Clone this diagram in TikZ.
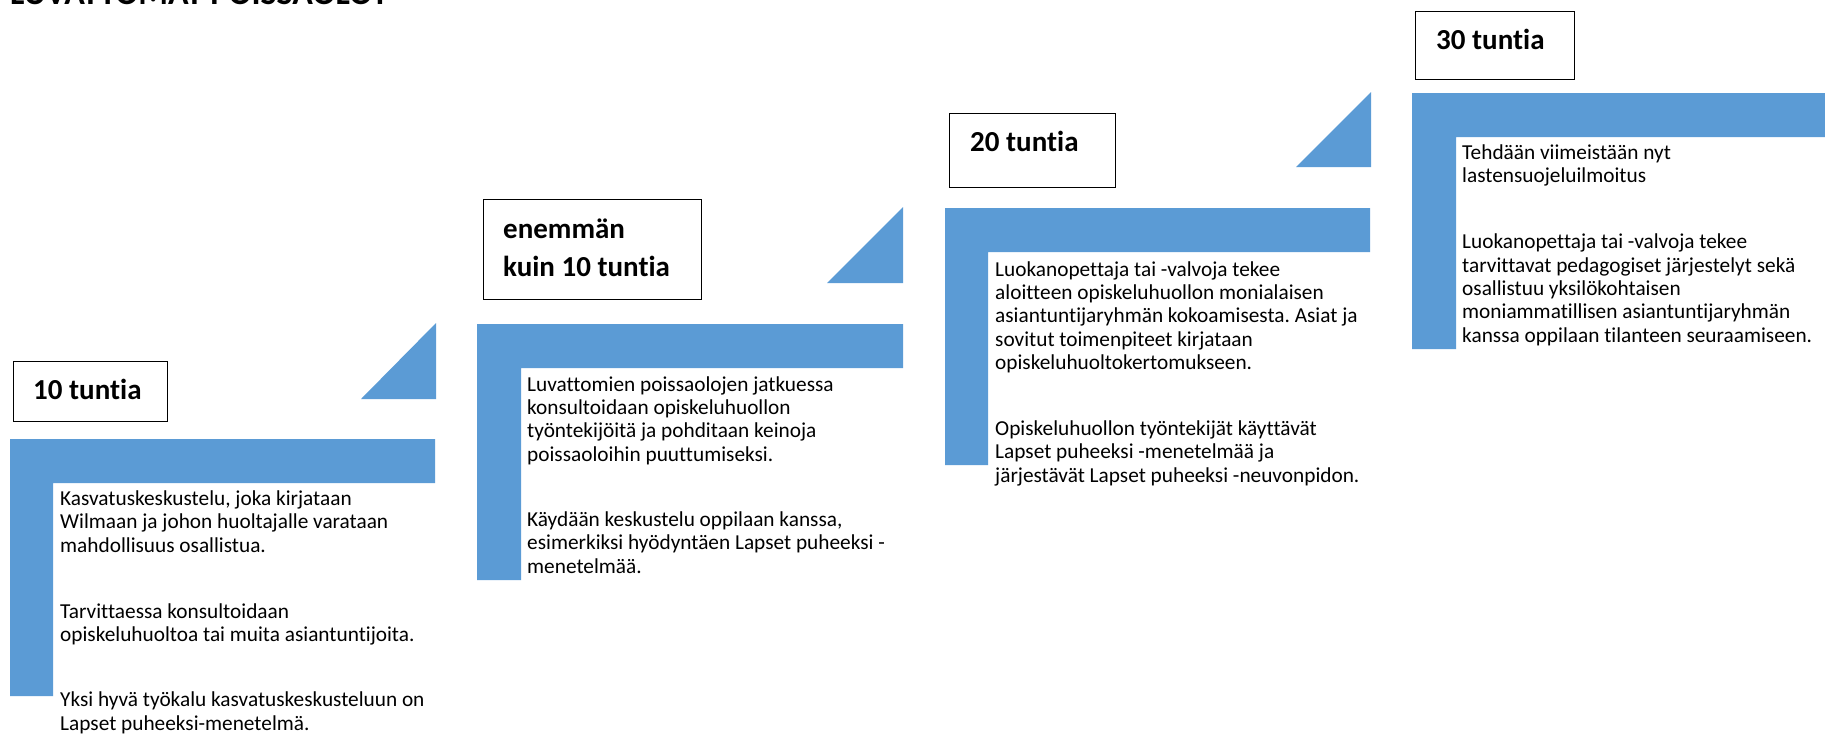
\documentclass[tikz,border=0pt]{standalone}
\usepackage{fontspec}
\setmainfont{Carlito}[Ligatures=NoCommon]
\definecolor{lblue}{HTML}{5B9BD5}
\frenchspacing
\begin{document}
\begin{tikzpicture}[x=1pt,y=-1pt,
  lshape/.style={fill=lblue},
  tri/.style={fill=lblue},
  hbox/.style={draw=black, line width=1.3pt, anchor=north west, inner sep=0pt},
  htext/.style={anchor=base west, font=\fontsize{29}{38}\selectfont\bfseries, inner sep=0pt, align=left},
  body/.style={anchor=base west, font=\frenchspacing\fontsize{21.3}{23.3}\selectfont, inner sep=0pt, align=left},
  title/.style={anchor=base west, font=\fontsize{34}{38}\selectfont\bfseries, inner sep=0pt}]
\useasboundingbox (0,0) rectangle (1825,734);

% title (cut off at top)
\node[title] (ttl) at (10,4) {LUVATTOMAT POISSAOLOT};

% panel 1
\fill[lshape] (10,439) -- (435,439) -- (435,483) -- (53,483) -- (53,696) -- (10,696) -- cycle;
\fill[tri] (361,399) -- (436,399) -- (436,323) -- cycle;
\node[hbox, minimum width=154pt, minimum height=60pt] (h1) at (13,361) {};
\node[htext] (h1t) at (33,399) {10 tuntia};
% anchor = baseline of last line
\node[body] (t1) at (60,730) {Kasvatuskeskustelu, joka kirjataan\\
Wilmaan ja johon huoltajalle varataan\\
mahdollisuus osallistua.\\[42.7pt]
Tarvittaessa konsultoidaan\\
opiskeluhuoltoa tai muita asiantuntijoita.\\[42pt]
Yksi hyvä työkalu kasvatuskeskusteluun on\\
Lapset puheeksi-menetelmä.};

% panel 2
\fill[lshape] (477,324) -- (903,324) -- (903,368) -- (521,368) -- (521,580) -- (477,580) -- cycle;
\fill[tri] (827,283) -- (903,283) -- (903,207) -- cycle;
\node[hbox, minimum width=218pt, minimum height=100pt] (h2) at (483,199) {};
\node[htext] (h2t) at (503,276) {enemmän\\kuin 10 tuntia};
\node[body] (t2) at (527,573) {Luvattomien poissaolojen jatkuessa\\
konsultoidaan opiskeluhuollon\\
työntekijöitä ja pohditaan keinoja\\
poissaoloihin puuttumiseksi.\\[42pt]
Käydään keskustelu oppilaan kanssa,\\
esimerkiksi hyödyntäen Lapset puheeksi -\\
menetelmää.};

% panel 3
\fill[lshape] (945,208) -- (1370,208) -- (1370,252) -- (988,252) -- (988,465) -- (945,465) -- cycle;
\fill[tri] (1296,167) -- (1371,167) -- (1371,92) -- cycle;
\node[hbox, minimum width=166pt, minimum height=74pt] (h3) at (949,113) {};
\node[htext] (h3t) at (970,151) {20 tuntia};
\node[body] (t3) at (995,482) {Luokanopettaja tai -valvoja tekee\\
aloitteen opiskeluhuollon monialaisen\\
asiantuntijaryhmän kokoamisesta. Asiat ja\\
sovitut toimenpiteet kirjataan\\
opiskeluhuoltokertomukseen.\\[42.7pt]
Opiskeluhuollon työntekijät käyttävät\\
Lapset puheeksi -menetelmää ja\\
järjestävät Lapset puheeksi -neuvonpidon.};

% panel 4
\fill[lshape] (1412,93) -- (1840,93) -- (1840,137) -- (1456,137) -- (1456,349) -- (1412,349) -- cycle;
\node[hbox, minimum width=159pt, minimum height=68pt] (h4) at (1415,11) {};
\node[htext] (h4t) at (1436,49) {30 tuntia};
\node[body] (t4) at (1462,342) {Tehdään viimeistään nyt\\
lastensuojeluilmoitus\\[42.7pt]
Luokanopettaja tai -valvoja tekee\\
tarvittavat pedagogiset järjestelyt sekä\\
osallistuu yksilökohtaisen\\
moniammatillisen asiantuntijaryhmän\\
kanssa oppilaan tilanteen seuraamiseen.};
\end{tikzpicture}
\end{document}
